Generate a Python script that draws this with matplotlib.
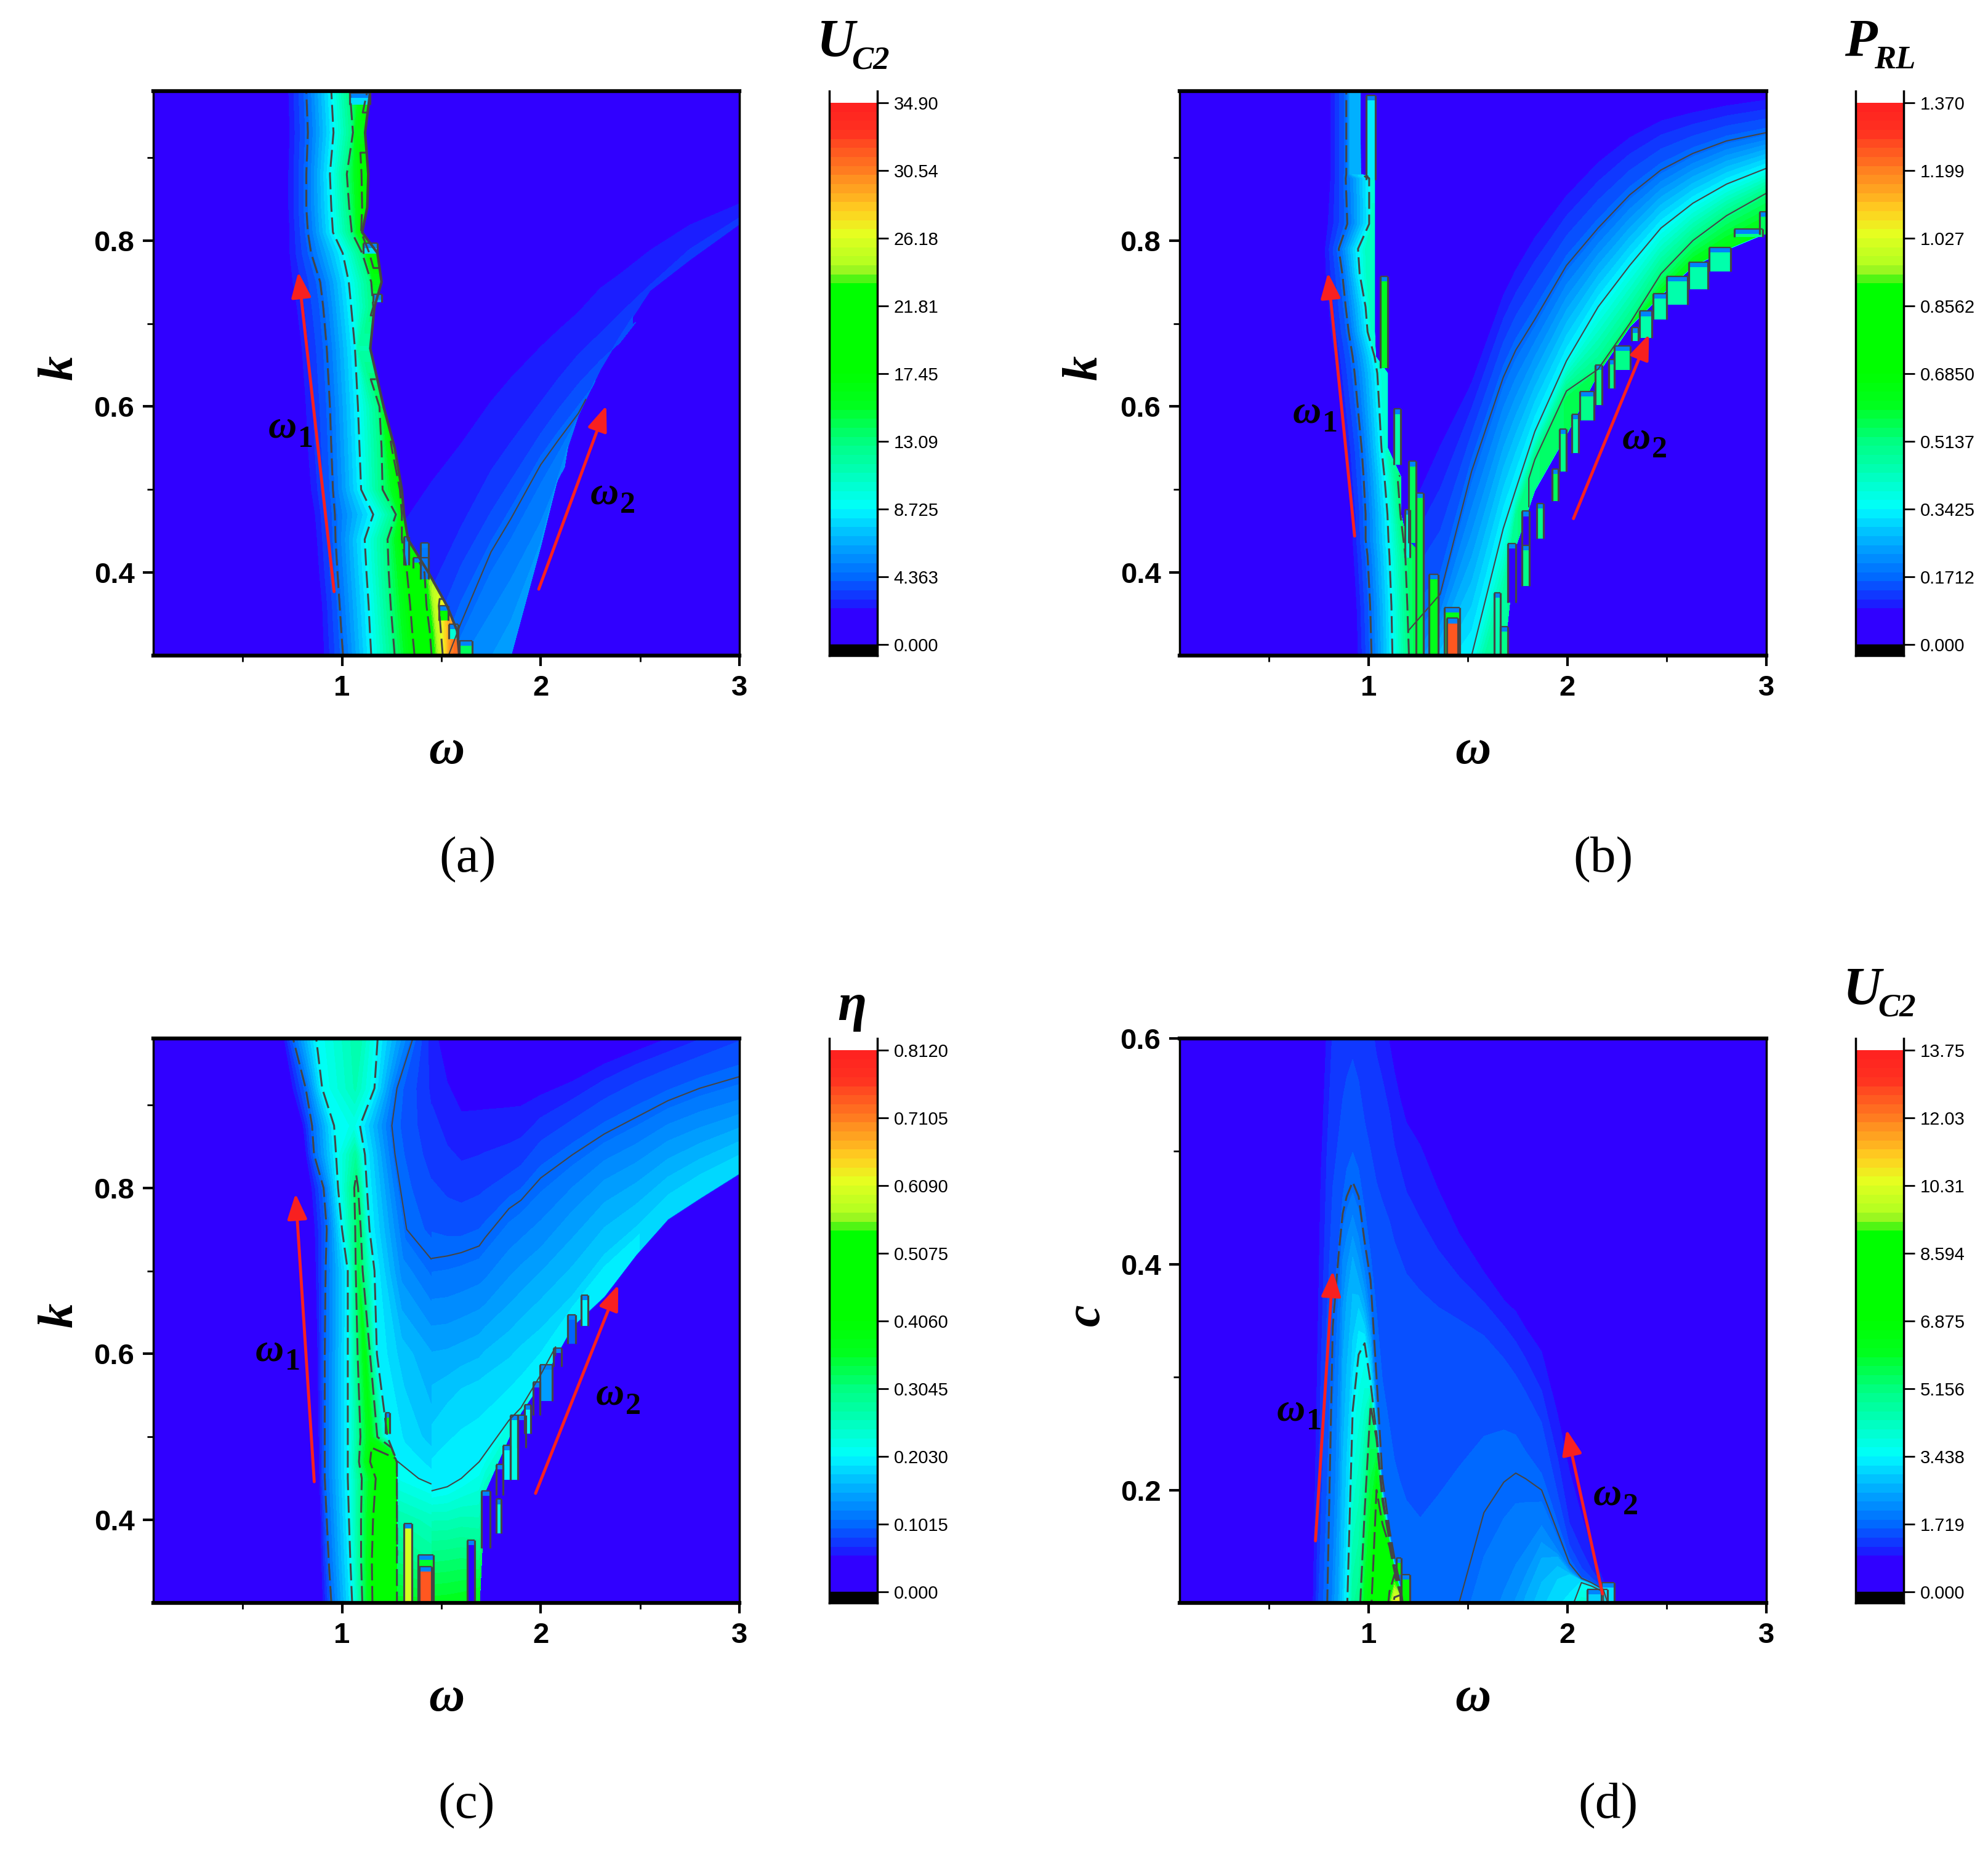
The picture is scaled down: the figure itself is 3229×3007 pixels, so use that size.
import numpy as np
import matplotlib
matplotlib.use("Agg")
import matplotlib.pyplot as plt
from matplotlib.colors import LinearSegmentedColormap, Normalize

n = np.nan
W, H = 3230, 3007
DARK = "#454545"

# colour scale (fraction of the maximum, colour)
cmap_stops = [(0, "#3000ff"), (.065, "#3000ff"), (.075, "#1a20ff"), (.1, "#0a48ff"), (.125, "#0068ff"),
              (.16, "#0090ff"), (.2, "#00b8ff"), (.235, "#00e8ff"), (.25, "#00ffff"), (.3, "#00ffc8"),
              (.375, "#00ff80"), (.44, "#00ff20"), (.5, "#00ff00"), (.665, "#00ff00"), (.68, "#80f020"),
              (.71, "#b8ff20"), (.76, "#e6ff20"), (.8, "#ffd020"), (.875, "#ff8020"), (.95, "#ff3020"),
              (1, "#ff2020")]

ticks_a = ["0.000", "4.363", "8.725", "13.09", "17.45", "21.81", "26.18", "30.54", "34.90"]
ticks_b = ["0.000", "0.1712", "0.3425", "0.5137", "0.6850", "0.8562", "1.027", "1.199", "1.370"]
ticks_c = ["0.000", "0.1015", "0.2030", "0.3045", "0.4060", "0.5075", "0.6090", "0.7105", "0.8120"]
ticks_d = ["0.000", "1.719", "3.438", "5.156", "6.875", "8.594", "10.31", "12.03", "13.75"]

# panel a, first resonance branch: omega at which each level is crossed, one row per k
a1_levels = [2.3, 4.363, 8.725, 13.09, 17.45, 21.81, 26.18, 30.54]
a1_k = [.98, .93, .88, .84, .81, .785, .75, .72, .67, .6, .55, .5, .47, .44, .4, .36, .33, .3]
a1_w = [[.730, .820, .946, 1.039, 1.127, n, n, n],
        [.736, .828, .957, 1.055, n, n, n, n],
        [.730, .820, .939, 1.024, 1.098, n, n, n],
        [.730, .820, .946, 1.036, 1.101, n, n, n],
        [.736, .828, .954, 1.049, 1.096, n, n, n],
        [.736, .844, 1.003, 1.101, 1.137, n, n, n],
        [.751, .890, 1.034, 1.147, n, n, n, n],
        [.772, .905, 1.046, 1.157, n, n, n, n],
        [.797, .923, 1.065, n, n, n, n, n],
        [.818, .939, 1.080, 1.188, n, n, n, n],
        [.828, .946, 1.088, 1.199, 1.25, n, n, n],
        [.844, .954, 1.096, 1.204, 1.291, n, n, n],
        [.864, .964, 1.157, 1.271, 1.301, n, n, n],
        [.874, .967, 1.114, 1.229, 1.301, n, n, n],
        [.885, .977, 1.123, 1.235, 1.327, 1.415, n, n],
        [.900, .988, 1.134, 1.245, 1.343, 1.425, 1.487, n],
        [.905, .996, 1.140, 1.255, 1.353, 1.441, 1.497, 1.56],
        [.910, 1.005, 1.147, 1.265, 1.365, 1.451, 1.507, 1.548]]
a1_edge = [1.142, 1.116, 1.132, 1.127, 1.101, 1.178, 1.199, 1.163, 1.142, 1.209, 1.265, 1.301, 1.312, 1.332,
           1.435, 1.528, 1.579, 1.59]
a1_peak = [19, 16, 19, 18, 17.6, 19, 16, 13.5, 11.5, 14.5, 18, 18.5, 18.5, 19, 23, 27, 31, 31.5]

# panel a, second branch: k at which each level is crossed, one column per omega
a2_levels = [2.3, 3.0, 3.8, 4.363, 5.5]
a2_w = [1.2, 1.32, 1.45, 1.6, 1.75, 1.85, 2, 2.09, 2.19, 2.3, 2.4, 2.55, 2.75, 3.0]
a2_k = [[.43, .27, n, n, n],
        [.47, .30, n, n, n],
        [.515, .36, .30, n, n],
        [.56, .44, .39, .34, n],
        [.61, .51, .45, .425, .33],
        [.638, .545, .49, .465, .37],
        [.675, .595, .55, .53, .44],
        [.695, .625, .58, .56, .50],
        [.716, .655, .61, .592, n],
        [.745, .68, .64, n, n],
        [.762, .705, .66, n, n],
        [.79, .74, n, n, n],
        [.82, .785, n, n, n],
        [.845, .825, n, n, n]]
a2_edge = [.25, .25, .25, .25, .25, .3, .432, .518, .59, .645, .685, .74, .777, .82]
a2_peak = [3.1, 3.2, 4, 5.2, 6.3, 6.3, 6.2, 5.8, 4.6, 3.9, 3.7, 3.2, 3.1, 3.0]

# strips along the stepped edges: left, right, low, high, value
a_strip_l = [1.039, 1.106, 1.157, 1.312, 1.358, 1.394, 1.487, 1.538, 1.59]
a_strip_r = [1.142, 1.178, 1.199, 1.337, 1.435, 1.435, 1.533, 1.584, 1.656]
a_strip_lo = [.964, .784, .726, .409, .405, .392, .342, .32, .302]
a_strip_hi = [.978, .797, .735, .443, .418, .436, .36, .338, .318]
a_strip_v = [8, 8, 7, 6, 17, 5, 18, 10, 14]

# panel b
b1_levels = [.09, .1712, .3425, .5137]
b1_k = [.98, .88, .875, .82, .79, .76, .72, .69, .66, .64, .55, .515, .47, .44, .42, .36, .3]
b1_w = [[.808, .888, n, n],
        [.808, .888, n, n],
        [.808, .885, 1.003, n],
        [.795, .893, 1.003, n],
        [.781, .85, .947, n],
        [.785, .868, .955, n],
        [.80, .885, .985, n],
        [.81, .90, .995, n],
        [.83, .92, 1.03, n],
        [.84, .93, 1.044, n],
        [.885, .965, 1.065, n],
        [.895, .975, 1.08, 1.146],
        [.915, .985, 1.095, 1.16],
        [.92, .985, 1.10, 1.175],
        [.925, .995, 1.105, 1.185],
        [.94, 1.008, 1.115, 1.195],
        [.947, 1.015, 1.12, 1.203]]
b1_edge = [.957, .96, 1.03, 1.03, 1.03, 1.03, 1.03, 1.03, 1.035, 1.095, 1.095, 1.162, 1.162, 1.19, 1.275, 1.275, 1.275]
b1_peak = [.27, .27, .4, .42, .42, .42, .42, .41, .38, .40, .4, .52, .52, .55, .6, .62, .62]

b2_levels = [.09, .1712, .3425, .5137]
b2_w = [1.2, 1.36, 1.518, 1.677, 1.74, 1.836, 1.995, 2.154, 2.313, 2.47, 2.631, 2.8, 3]
b2_k = [[.47, .33, n, n],
        [.555, .374, .26, n],
        [.63, .522, .30, n],
        [.735, .635, .453, n],
        [.766, .668, .50, n],
        [.805, .705, .57, n],
        [.855, .77, .655, n],
        [.895, .815, .72, .645],
        [.925, .855, .77, .70],
        [.945, .885, .815, .76],
        [.955, .905, .845, .80],
        [.963, .92, .868, .83],
        [.97, .93, .887, .857]]
b2_edge = [.2, .2, .2, .29, .432, .50, .567, .641, .697, .735, .77, .79, .81]
b2_peak = [.2, .34, .45, .47, .5, .52, .55, .58, .6, .62, .63, .64, .65]

b_strip_l = [.988, 1.059, 1.126, 1.203, 1.182, 1.239, 1.305, 1.382, 1.392, 1.632, 1.663, 1.701, 1.77, 1.77, 1.845,
             1.922, 1.96, 2.023, 2.063, 2.138, 2.207, 2.236, 2.322, 2.362, 2.431, 2.5, 2.609, 2.713, 2.838, 2.965]
b_strip_r = [1.034, 1.095, 1.162, 1.239, 1.208, 1.275, 1.351, 1.459, 1.448, 1.663, 1.701, 1.741, 1.807, 1.807, 1.879,
             1.954, 1.994, 2.057, 2.132, 2.172, 2.236, 2.316, 2.356, 2.425, 2.5, 2.603, 2.707, 2.822, 2.98, 3.0]
b_strip_lo = [.873, .646, .53, .436, .418, .3, .3, .3, .3, .3, .3, .364, .384, .433, .441, .486, .522, .544, .583,
              .602, .622, .644, .679, .683, .705, .723, .741, .763, .804, .807]
b_strip_hi = [.975, .757, .597, .534, .476, .496, .398, .358, .345, .376, .335, .435, .433, .474, .483, .525, .573,
              .591, .618, .65, .657, .673, .695, .715, .736, .757, .774, .792, .814, .835]
b_strip_v = [.33, .6, .45, .55, .4, .58, .62, .62, 1.25, .45, .5, 0, .5, 0, .5, .55, .5, .45, .5, .5, .5, .5, .45, .45,
             .45, .45, .45, .45, .5, .55]

# panel c, ridge part: omega and value along each k row up to omega 1.45
c1_k = [.98, .92, .875, .84, .8, .75, .7, .6, .5, .47, .45, .4, .35, .3]
c1_w = [[.705, .753, .87, 1.083, 1.179, 1.356, 1.45],
        [.747, .817, .90, 1.067, 1.163, 1.276, 1.45],
        [.801, .849, .96, 1.058, 1.09, 1.25, 1.45],
        [.817, .859, .97, 1.067, 1.115, 1.266, 1.45],
        [.843, .907, .98, 1.074, 1.125, 1.292, 1.45],
        [.859, .923, 1.0, 1.083, 1.138, 1.324, 1.45],
        [.865, .917, 1.029, 1.083, 1.163, 1.3, 1.45],
        [.875, .913, 1.029, 1.115, 1.175, 1.3, 1.45],
        [.881, .913, 1.029, 1.14, 1.228, 1.33, 1.45],
        [.883, .913, 1.029, 1.16, 1.275, 1.277, 1.45],
        [.885, .913, 1.029, 1.2, 1.275, 1.277, 1.45],
        [.891, .923, 1.035, 1.2, 1.275, 1.277, 1.45],
        [.894, .933, 1.042, 1.2, 1.275, 1.277, 1.45],
        [.901, .946, 1.051, 1.2, 1.275, 1.277, 1.45]]
c1_v = [[.05, .1015, .203, .27, .203, .1015, .06],
        [.05, .1015, .203, .26, .203, .1015, .065],
        [.05, .1015, .203, .22, .203, .1015, .07],
        [.05, .1015, .203, .28, .203, .1015, .075],
        [.05, .1015, .203, .32, .203, .1015, .083],
        [.05, .1015, .203, .33, .203, .1015, .092],
        [.05, .1015, .203, .34, .203, .13, .105],
        [.05, .1015, .203, .38, .203, .17, .15],
        [.05, .1015, .203, .38, .203, .185, .17],
        [.05, .1015, .203, .44, .44, .203, .185],
        [.05, .1015, .203, .45, .45, .215, .195],
        [.05, .1015, .203, .48, .48, .27, .25],
        [.05, .1015, .203, .5, .5, .31, .285],
        [.05, .1015, .203, .5, .5, .36, .36]]

# panel c, right part: k at which each level is crossed, one column per omega
c2_levels = [.04, .05, .075, .1015, .13, .155, .18, .203, .25, .3, .35]
c2_w = [1.45, 1.53, 1.6, 1.69, 1.72, 1.84, 1.9, 2, 2.16, 2.32, 2.48, 2.64, 2.8, 3]
c2_k = [[1.1, 1.05, .84, .715, .646, .588, .50, .435, .405, .36, .31],
        [1.1, .95, .81, .718, .648, .592, .53, .44, .405, .362, .312],
        [1.1, .91, .80, .722, .655, .60, .55, .45, .41, .365, .315],
        [1.1, .91, .81, .73, .665, .61, .56, .47, .41, .36, .32],
        [1.1, .91, .815, .74, .67, .62, .565, .48, .44, n, n],
        [1.1, .91, .83, .775, .705, .645, .585, .52, n, n, n],
        [1.1, .91, .84, .785, .72, .66, .60, .535, n, n, n],
        [1.1, .92, .87, .812, .74, .685, .62, .575, n, n, n],
        [1.1, .935, .895, .84, .785, .725, .66, n, n, n, n],
        [1.1, .955, .92, .865, .82, .77, .71, n, n, n, n],
        [1.1, .97, .94, .885, .84, .795, .745, n, n, n, n],
        [1.1, .985, .955, .905, .865, .825, .785, n, n, n, n],
        [1.1, 1.0, .97, .92, .88, .845, .81, n, n, n, n],
        [1.1, 1.02, .99, .934, .895, .865, .835, n, n, n, n]]
c2_edge = [.25, .25, .25, .29, .435, .50, .53, .565, .634, .67, .72, .763, .788, .818]
c2_peak = [.4, .4, .4, .38, .25, .22, .22, .21, .195, .195, .19, .185, .185, .18]

c_strip_l = [1.311, 1.384, 1.389, 1.631, 1.703, 1.775, 1.775, 1.811, 1.847, 1.884, 1.92, 1.961, 1.997, 2.064, 2.136,
             2.205, 1.219]
c_strip_r = [1.353, 1.461, 1.45, 1.667, 1.744, 1.80, 1.81, 1.847, 1.884, 1.925, 1.951, 1.997, 2.059, 2.105, 2.177,
             2.237, 1.24]
c_strip_lo = [.3, .3, .3, .3, .366, .384, .43, .448, .448, .487, .504, .526, .543, .585, .612, .634, .504]
c_strip_hi = [.396, .358, .344, .376, .435, .425, .467, .49, .526, .526, .539, .566, .587, .607, .647, .671, .529]
c_strip_v = [.6, .35, .74, 0, 0, .22, 0, .2, .22, 0, .2, 0, .14, 0, .1, .2, .4]

# panel d: c at which each level is crossed, one column per omega
d_levels = [.9, 1.2, 1.5, 1.6, 1.719, 2.1, 2.6, 3.0, 3.438, 5.156, 6.875, 8.594, 10.31, 12.03]
d_w = [.72, .74, .76, .79, .82, .85, .87, .89, .92, .95, .98, 1.01, 1.04, 1.07, 1.105, 1.13, 1.16, 1.19, 1.26, 1.35,
       1.455, 1.58, 1.68, 1.74, 1.79, 1.87, 1.95, 2.01, 2.07, 2.12, 2.18, 2.234]
d_c = [[.09, n, n, n, n, n, n, n, n, n, n, n, n, n],
       [.30, .10, n, n, n, n, n, n, n, n, n, n, n, n],
       [.49, .26, .10, n, n, n, n, n, n, n, n, n, n, n],
       [.62, .47, .27, .20, .08, n, n, n, n, n, n, n, n, n],
       [.68, .60, .375, .36, .345, .10, n, n, n, n, n, n, n, n],
       [.72, .62, .44, .42, .41, .30, .08, n, n, n, n, n, n, n],
       [.74, .64, .48, .46, .445, .40, .30, .10, .05, n, n, n, n, n],
       [.76, .65, .505, .485, .46, .42, .36, .22, .08, n, n, n, n, n],
       [.78, .66, .525, .50, .473, .44, .40, .33, .27, .05, n, n, n, n],
       [.78, .65, .50, .485, .46, .42, .38, .36, .32, .07, n, n, n, n],
       [.76, .62, .46, .45, .42, .39, .36, .345, .33, .18, .05, n, n, n],
       [.73, .60, .43, .41, .386, .35, .33, .31, .295, .275, .08, n, n, n],
       [.70, .56, .41, .36, .30, .27, .26, .255, .25, .245, .20, .05, n, n],
       [.67, .54, .395, .30, .21, .205, .20, .198, .195, .19, .17, .05, n, n],
       [.60, .52, .38, .26, .165, .163, .161, .159, .157, .155, .15, .11, .08, n],
       [.575, .49, .37, .23, .14, .138, .136, .134, .132, .13, .128, .125, .105, .05],
       [.55, .47, .36, .21, .115, .114, .113, .112, .111, .11, .109, .108, .107, .09],
       [.53, .45, .35, .195, .08, n, n, n, n, n, n, n, n, n],
       [.51, .425, .342, .18, .05, n, n, n, n, n, n, n, n, n],
       [.47, .40, .335, .20, .07, n, n, n, n, n, n, n, n, n],
       [.43, .38, .33, .225, .10, n, n, n, n, n, n, n, n, n],
       [.395, .36, .32, .25, .18, .05, n, n, n, n, n, n, n, n],
       [.37, .34, .30, .255, .207, .10, .05, n, n, n, n, n, n, n],
       [.36, .325, .285, .25, .215, .125, .07, n, n, n, n, n, n, n],
       [.345, .31, .27, .235, .21, .14, .10, .05, n, n, n, n, n, n],
       [.325, .28, .245, .215, .20, .165, .135, .09, .05, n, n, n, n, n],
       [.27, .22, .18, .172, .163, .145, .14, .12, .07, n, n, n, n, n],
       [.22, .16, .145, .14, .135, .13, .127, .125, .09, n, n, n, n, n],
       [.18, .14, .125, .123, .122, .12, .12, .12, .118, n, n, n, n, n],
       [.15, .125, .12, .119, .118, .118, .117, .116, .115, n, n, n, n, n],
       [.12, .115, .113, .112, .112, .111, .111, .11, .11, n, n, n, n, n],
       [.10, .098, .097, n, n, n, n, n, n, n, n, n, n, n]]
d_peak = [.95, 1.3, 1.55, 1.8, 2.2, 2.7, 3.2, 3.6, 5.2, 5.2, 6, 7, 8.7, 9, 10.8, 12.5, 13, 1.7, 1.6, 1.65, 1.75, 2.1,
          2.6, 2.6, 3, 3.5, 3.7, 3.9, 3.9, 3.9, 3.5, 1.6]
d_strip_l = [1.14, 1.165, 2.1, 2.17]
d_strip_r = [1.165, 1.207, 2.2, 2.234]
d_strip_lo = [.125, .1, .1, .1]
d_strip_hi = [.14, .125, .112, .118]
d_strip_v = [9, 8, 3, 3.2]

# arrows: tail (x, y), head (x, y), label position
arrows_a = [(.96, .377, .78, .762, .70, .574), (1.99, .38, 2.33, .601, 2.32, .494)]
arrows_b = [(.93, .444, .796, .761, .69, .592), (2.03, .465, 2.41, .687, 2.345, .561)]
arrows_c = [(.86, .446, .766, .793, .635, .603), (1.974, .432, 2.39, .683, 2.35, .55)]
arrows_d = [(.733, .155, .82, .394, .61, .27), (2.176, .108, 1.995, .2535, 2.2, .195)]

cmap = LinearSegmentedColormap.from_list("origin", cmap_stops, N=256)
SERIF = dict(family="Liberation Serif", style="italic", weight="bold")


def level_mesh(levels, pos, peak, edge):
    """Turn crossing positions into a mesh: one line per row, ending in the cliff."""
    pos = np.array(pos, dtype=float)
    rows, nlev = pos.shape
    P = np.zeros((rows, nlev + 2))
    V = np.zeros((rows, nlev + 2))
    for i in range(rows):
        m = int(np.sum(~np.isnan(pos[i])))
        P[i, :m] = pos[i, :m]
        V[i, :m] = levels[:m]
        direction = np.sign(edge[i] - pos[i, 0])
        P[i, m:nlev + 1] = np.linspace(pos[i, m - 1], edge[i], nlev - m + 2)[1:]
        V[i, m:nlev + 1] = peak[i]
        P[i, nlev + 1] = edge[i] + direction * .002
    return P, V


def fill(ax, X, Y, V, vmax, start):
    bands = np.linspace(0, vmax, 61)
    bands = bands[bands >= start * vmax]
    ax.contourf(X, Y, V, levels=bands, cmap=cmap, norm=Normalize(0, vmax), extend="max", zorder=2)


def lines(ax, X, Y, V, levels, dashed):
    style = [(0, (9, 3))] if dashed else "solid"
    width = 2.2 if dashed else 1.5
    ax.contour(X, Y, V, levels=levels, colors=DARK, linewidths=width, linestyles=style, zorder=4)


def strips(ax, left, right, low, high, val, vmax):
    ylo, yhi = ax.get_ylim()
    cap = (yhi - ylo) * .009
    norm = Normalize(0, vmax)
    for l, r, lo, hi, v in zip(left, right, low, high, val):
        ax.pcolormesh([l, r], [lo, hi], [[v]], cmap=cmap, norm=norm, zorder=3)
        ax.pcolormesh([l, r], [hi - cap, hi], [[.15 * vmax]], cmap=cmap, norm=norm, zorder=3)
        ax.vlines([l, r], lo, hi, color=DARK, lw=2.3, zorder=4)
        ax.hlines(hi, l, r, color=DARK, lw=1.6, zorder=4)


def px_text(fig, x, y, s, **kw):
    fig.text(x / W, 1 - y / H, s, ha="center", va="center", **kw)


def setup_axes(fig, left, top, ylim, yticks, yminor, ylabels, right):
    ax = fig.add_axes([left / W, 1 - (top + 917) / H, (right - left) / W, 917 / H])
    ax.set_facecolor("#3000ff")
    ax.set_xlim(.05, 3)
    ax.set_ylim(*ylim)
    ax.set_xticks([1, 2, 3])
    ax.set_xticks([.5, 1.5, 2.5], minor=True)
    ax.set_yticks(yticks)
    ax.set_yticks(yminor, minor=True)
    ax.set_yticklabels(ylabels)
    ax.tick_params(which="major", length=12, width=3, labelsize=34, pad=10)
    ax.tick_params(which="minor", length=7, width=2)
    for lab in ax.get_xticklabels() + ax.get_yticklabels():
        lab.set_fontfamily("Liberation Sans")
        lab.set_fontweight("bold")
    for side, width in (("top", 4.5), ("bottom", 4.5), ("left", 2.5), ("right", 2.5)):
        ax.spines[side].set_linewidth(width)
        ax.spines[side].set_zorder(6)
    return ax


def add_colorbar(fig, left, top, vmax, labels):
    cax = fig.add_axes([left / W, 1 - (top + 917) / H, 78 / W, 917 / H])
    cax.set_xlim(0, 1)
    cax.set_ylim(-.0205 * vmax, 1.0216 * vmax)
    bands = np.linspace(0, vmax, 61)
    cax.pcolormesh([0, 1], bands, (bands[:-1] + bands[1:]).reshape(-1, 1) / 2, cmap=cmap, norm=Normalize(0, vmax))
    cax.axhspan(-.0205 * vmax, 0, color="black")
    cax.set_xticks([])
    cax.yaxis.tick_right()
    cax.set_yticks(np.linspace(0, vmax, len(labels)))
    cax.set_yticklabels(labels, fontsize=21, fontfamily="Liberation Sans")
    cax.tick_params(axis="y", length=13, width=2, pad=6)
    cax.spines["top"].set_visible(False)
    for side in ("left", "right", "bottom"):
        cax.spines[side].set_linewidth(2.5)


def add_arrows(ax, arrows):
    for i, (x0, y0, x1, y1, tx, ty) in enumerate(arrows):
        ax.annotate("", xy=(x1, y1), xytext=(x0, y0), zorder=7,
                    arrowprops=dict(arrowstyle="-|>,head_length=.9,head_width=.35", color="#f82020", lw=3.5,
                                    mutation_scale=28, shrinkA=0, shrinkB=0))
        ax.text(tx, ty, "ω", fontsize=46, ha="center", va="center", zorder=8, **SERIF)
        ax.annotate(str(i + 1), (tx, ty), xytext=(27, -13), textcoords="offset points", fontsize=36,
                    family="Liberation Serif", weight="bold", ha="center", va="center", zorder=8)


fig = plt.figure(figsize=(W / 100, H / 100), dpi=100)
K_TICKS = [.4, .6, .8]
K_LABELS = ["0.4", "0.6", "0.8"]

# (a)
ax_a = setup_axes(fig, 249, 148, (.3, .98), K_TICKS, [.5, .7, .9], K_LABELS, 1201)
P, V = level_mesh(a2_levels, a2_k, a2_peak, a2_edge)
X = np.repeat(np.array(a2_w)[:, None], P.shape[1], axis=1)
fill(ax_a, X, P, V, 34.9, .06)
lines(ax_a, X[:, :-1], P[:, :-1], V[:, :-1], [4.363], False)
P, V = level_mesh(a1_levels, a1_w, a1_peak, a1_edge)
Y = np.repeat(np.array(a1_k)[:, None], P.shape[1], axis=1)
fill(ax_a, P, Y, V, 34.9, .06)
strips(ax_a, a_strip_l, a_strip_r, a_strip_lo, a_strip_hi, a_strip_v, 34.9)
lines(ax_a, P[:, :-1], Y[:, :-1], V[:, :-1], [4.363, 8.725, 13.09, 17.45, 21.81, 26.18], True)
ax_a.plot(a1_edge, a1_k, color=DARK, lw=3, zorder=4)
add_arrows(ax_a, arrows_a)

# (b)
ax_b = setup_axes(fig, 1916, 148, (.3, .98), K_TICKS, [.5, .7, .9], K_LABELS, 2869)
P, V = level_mesh(b2_levels, b2_k, b2_peak, b2_edge)
X = np.repeat(np.array(b2_w)[:, None], P.shape[1], axis=1)
fill(ax_b, X, P, V, 1.37, .06)
lines(ax_b, X[:, :-1], P[:, :-1], V[:, :-1], [.1712, .3425, .5137], False)
P, V = level_mesh(b1_levels, b1_w, b1_peak, b1_edge)
Y = np.repeat(np.array(b1_k)[:, None], P.shape[1], axis=1)
fill(ax_b, P, Y, V, 1.37, .06)
lines(ax_b, P[:, :-1], Y[:, :-1], V[:, :-1], [.1712, .3425, .5137], True)
strips(ax_b, b_strip_l, b_strip_r, b_strip_lo, b_strip_hi, b_strip_v, 1.37)
add_arrows(ax_b, arrows_b)

# (c)
ax_c = setup_axes(fig, 249, 1687, (.3, .98), K_TICKS, [.5, .7, .9], K_LABELS, 1201)
P, V = level_mesh(c2_levels, c2_k, c2_peak, c2_edge)
X = np.repeat(np.array(c2_w)[:, None], P.shape[1], axis=1)
fill(ax_c, X, P, V, .812, .04)
lines(ax_c, X[:, :-1], P[:, :-1], V[:, :-1], [.1015, .203], False)
C1W = np.array(c1_w)
C1V = np.array(c1_v)
Y = np.repeat(np.array(c1_k)[:, None], 7, axis=1)
fill(ax_c, C1W, Y, C1V, .812, .04)
lines(ax_c, C1W[:, :3], Y[:, :3], C1V[:, :3], [.1015], True)
lines(ax_c, C1W[:, :6], Y[:, :6], C1V[:, :6], [.2029, .3045, .406], True)
lines(ax_c, C1W[:, 5:], Y[:, 5:], C1V[:, 5:], [.1014, .2025], False)
strips(ax_c, c_strip_l, c_strip_r, c_strip_lo, c_strip_hi, c_strip_v, .812)
add_arrows(ax_c, arrows_c)

# (d)
ax_d = setup_axes(fig, 1916, 1687, (.1, .6), [.2, .4, .6], [.3, .5], ["0.2", "0.4", "0.6"], 2869)
P, V = level_mesh(d_levels, d_c, d_peak, [.04] * len(d_w))
X = np.repeat(np.array(d_w)[:, None], P.shape[1], axis=1)
fill(ax_d, X, P, V, 13.75, .05)
split = 18
lines(ax_d, X[:split, :-1], P[:split, :-1], V[:split, :-1], [1.719, 3.438, 5.156, 6.875, 8.594, 10.31], True)
lines(ax_d, X[split:, :-1], P[split:, :-1], V[split:, :-1], [1.719, 3.438], False)
strips(ax_d, d_strip_l, d_strip_r, d_strip_lo, d_strip_hi, d_strip_v, 13.75)
add_arrows(ax_d, arrows_d)

# colour bars
add_colorbar(fig, 1347, 148, 34.9, ticks_a)
add_colorbar(fig, 3014, 148, 1.37, ticks_b)
add_colorbar(fig, 1347, 1687, .812, ticks_c)
add_colorbar(fig, 3014, 1687, 13.75, ticks_d)

# axis names, colour bar names, captions
for x, y in ((725, 1221), (2392, 1221), (725, 2760), (2392, 2760)):
    px_text(fig, x, y, "ω", fontsize=58, **SERIF)
for x, y, s in ((97, 597, "k"), (1761, 597, "k"), (97, 2136, "k"), (1765, 2136, "c")):
    px_text(fig, x, y, s, fontsize=58, rotation=90, **SERIF)
px_text(fig, 1358, 70, "U", fontsize=62, **SERIF)
px_text(fig, 1414, 98, "C2", fontsize=38, **SERIF)
px_text(fig, 3022, 70, "P", fontsize=62, **SERIF)
px_text(fig, 3078, 98, "RL", fontsize=38, **SERIF)
px_text(fig, 1384, 1636, "η", fontsize=62, **SERIF)
px_text(fig, 3025, 1610, "U", fontsize=62, **SERIF)
px_text(fig, 3081, 1638, "C2", fontsize=38, **SERIF)
for x, y, s in ((760, 1397, "(a)"), (2604, 1397, "(b)"), (758, 2934, "(c)"), (2612, 2934, "(d)")):
    px_text(fig, x, y, s, fontsize=60, family="Liberation Serif")

fig.savefig("out.png", dpi=100)
